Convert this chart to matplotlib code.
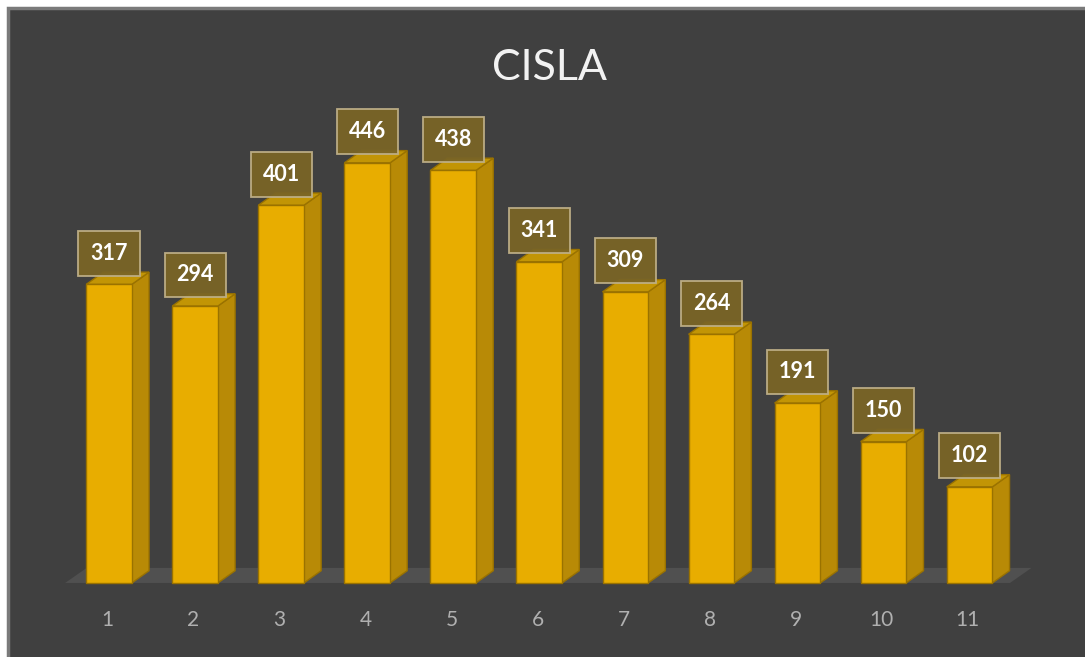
import matplotlib.pyplot as plt
from matplotlib.patches import Polygon, Rectangle

# data
categories = ['1', '2', '3', '4', '5', '6', '7', '8', '9', '10', '11']
values = [317, 294, 401, 446, 438, 341, 309, 264, 191, 150, 102]
title = 'CISLA'

plt.rcParams['font.family'] = ['Lato', 'DejaVu Sans']

bg = '#404040'
front_col = '#e8ad00'
side_col = '#b88a06'
top_col = '#c29505'
edge_col = '#9a7200'

fig = plt.figure(figsize=(10.85, 6.57), dpi=100, facecolor='white')

# dark chart area with grey border
fig.patches.append(Rectangle((8 / 1085, -0.01), 1.02, (657 - 8) / 657 + 0.01,
                             transform=fig.transFigure, facecolor=bg,
                             edgecolor='#7a7a7a', linewidth=2.5, zorder=-1))

ax = fig.add_axes([0, 0, 1, 1])
ax.set_zorder(2)
ax.set_facecolor('none')
ax.set_xlim(-0.267, 12.342)
ax.set_ylim(-78.6, 618.9)
ax.axis('off')

half = 0.265   # half width of front face
dx, dy = 0.2, 13   # depth offset

# floor
fx0, fx1 = 0.49, 11.47
floor = Polygon([(fx0, 0), (fx1, 0), (fx1 + 0.25, 16), (fx0 + 0.25, 16)],
                closed=True, facecolor='#505050', edgecolor='none', zorder=1)
ax.add_patch(floor)

for i, (cat, v) in enumerate(zip(categories, values)):
    x = i + 1
    l, r = x - half, x + half
    # side face
    ax.add_patch(Polygon([(r, 0), (r + dx, dy), (r + dx, v + dy), (r, v)],
                         closed=True, facecolor=side_col, edgecolor=edge_col,
                         linewidth=1, zorder=2))
    # top face
    ax.add_patch(Polygon([(l, v), (r, v), (r + dx, v + dy), (l + dx, v + dy)],
                         closed=True, facecolor=top_col, edgecolor=edge_col,
                         linewidth=1, zorder=2))
    # front face
    ax.add_patch(Polygon([(l, 0), (r, 0), (r, v), (l, v)],
                         closed=True, facecolor=front_col, edgecolor=edge_col,
                         linewidth=1, zorder=3))
    # value label
    ax.text(x, v + 33, str(v), ha='center', va='center', color='white',
            fontsize=15.5, fontweight='bold', zorder=5,
            bbox=dict(boxstyle='square,pad=0.55', facecolor='#7a6526',
                      edgecolor='#bfb088', linewidth=1.3, alpha=0.95))
    # category label
    ax.text(x - 0.02, -39, cat, ha='center', va='center', color='#b0b0b0',
            fontsize=15, zorder=5)

fig.text(550 / 1085, 1 - 68 / 657, title, ha='center', va='center',
         color='#f2f2f2', fontsize=31, zorder=3)

plt.savefig('out.png', dpi=100, facecolor=fig.get_facecolor())
